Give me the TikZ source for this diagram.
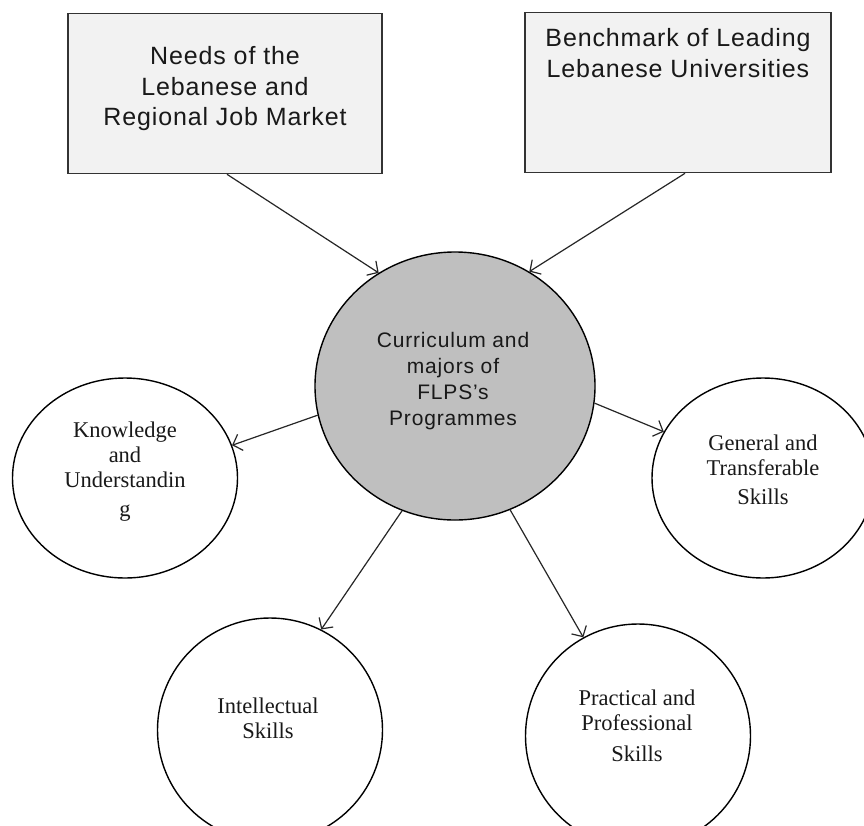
\documentclass[tikz,border=0pt]{standalone}
\usepackage{fontspec}
\setmainfont{Liberation Serif}
\newfontfamily\boxfont[LetterSpace=3.5]{Liberation Sans}
\newfontfamily\circfont[LetterSpace=4]{Liberation Sans}
\usetikzlibrary{arrows.meta,shapes.geometric}
\begin{document}
\begin{tikzpicture}[x=1pt,y=-1pt,
  box/.style={draw=black!80, line width=1.6pt, fill=black!5, inner sep=0pt,
              minimum height=160pt},
  boxtext/.style={align=center, inner sep=0pt, text=black!90,
              font=\boxfont\fontsize{25}{30.5}\selectfont},
  hub/.style={ellipse, draw=black, line width=1.4pt, fill=black!25, inner sep=0pt,
              minimum width=280pt, minimum height=268pt},
  hubtext/.style={align=center, inner sep=0pt, text=black!90,
              font=\circfont\fontsize{21}{26}\selectfont},
  leaf/.style={ellipse, draw=black, line width=1.4pt, fill=white, inner sep=0pt},
  leaftext/.style={align=center, inner sep=0pt, text=black!90,
              font=\fontsize{22.5}{25}\selectfont},
  arr/.style={draw=black!85, line width=1.2pt,
              -{Straight Barb[length=8pt,width=17pt,line width=1.2pt]}}
]
\useasboundingbox (0,0) rectangle (864,825);
\fill[white] (0,0) rectangle (864,825);
\begin{scope}
\clip (0,0) rectangle (864,825);
\node[box, minimum width=314pt] (L) at (225,93.5) {};
\node[box, minimum width=306pt] (R) at (678,92.5) {};
\node[hub] (C) at (455,386) {};
\node[leaf, minimum width=225pt, minimum height=200pt] (K) at (125,478) {};
\node[leaf, minimum width=222pt, minimum height=200pt] (G) at (763,478) {};
\node[leaf, minimum width=225pt, minimum height=224pt] (I) at (270,730) {};
\node[leaf, minimum width=225pt, minimum height=224pt] (P) at (638,736) {};
\end{scope}

\node[boxtext] (Lt) at (225,89) {Needs of the\\Lebanese and\\Regional Job Market};
\node[boxtext] (Rt) at (678,53) {Benchmark of Leading\\Lebanese Universities};
\node[hubtext] (Ct) at (453,381) {Curriculum and\\majors of\\FLPS’s\\Programmes};
\node[leaftext] (Kt) at (125,472) {Knowledge\\and\\Understandin\\[4pt]g};
\node[leaftext] (Gt) at (763,470) {General and\\Transferable\\[4pt]Skills};
\node[leaftext] (It) at (268,718) {Intellectual\\Skills};
\node[leaftext] (Pt) at (637,726) {Practical and\\Professional\\[6pt]Skills};

\draw[arr] ([xshift=2pt]L.south) -- (C.124);
\draw[arr] ([xshift=7pt]R.south) -- (C.57);
\draw[arr] (C.192) -- (K.17);
\draw[arr] (C.353) -- (G.155);
\draw[arr] (C.247) -- (I.63);
\draw[arr] (C.294) -- (P.119);
\end{tikzpicture}
\end{document}
